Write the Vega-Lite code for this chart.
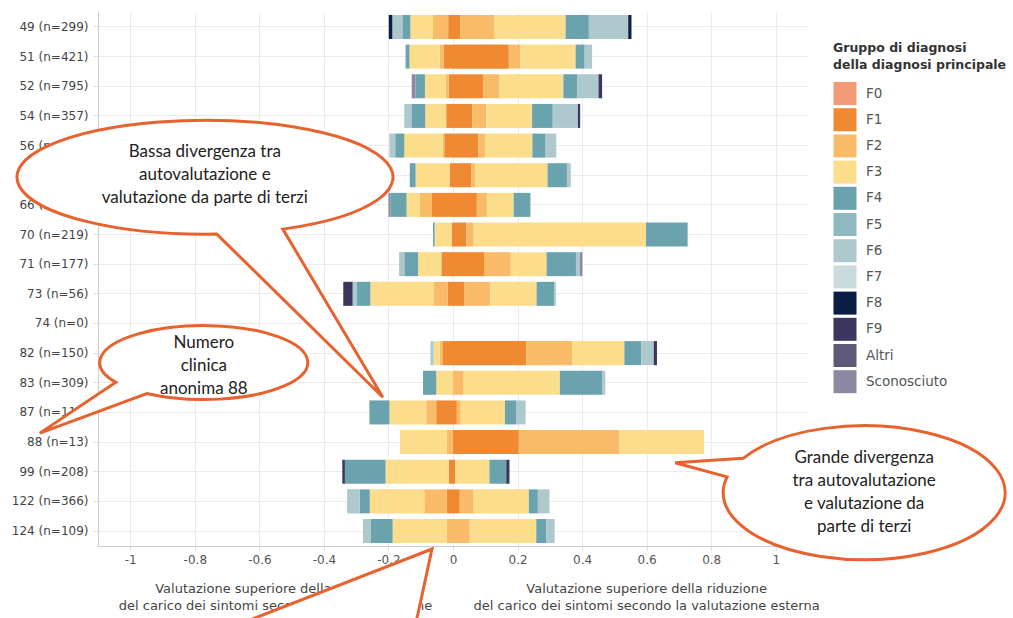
{
  "$schema": "https://vega.github.io/schema/vega-lite/v6.json",
  "width": 710,
  "height": 534,
  "autosize": {"type": "none"},
  "padding": {"left": 98, "top": 12, "right": 205, "bottom": 72},
  "background": "white",
  "config": {"view": {"stroke": null}, "font": "DejaVu Sans"},
  "datasets": {
    "bars": [
      {"c": "49 (n=299)", "g": "F1", "v": -0.015}, {"c": "49 (n=299)", "g": "F2", "v": -0.047}, {"c": "49 (n=299)", "g": "F3", "v": -0.070}, {"c": "49 (n=299)", "g": "F4", "v": -0.025}, {"c": "49 (n=299)", "g": "F6", "v": -0.031}, {"c": "49 (n=299)", "g": "F8", "v": -0.011},
      {"c": "49 (n=299)", "g": "F1", "v": 0.022}, {"c": "49 (n=299)", "g": "F2", "v": 0.105}, {"c": "49 (n=299)", "g": "F3", "v": 0.222}, {"c": "49 (n=299)", "g": "F4", "v": 0.072}, {"c": "49 (n=299)", "g": "F6", "v": 0.122}, {"c": "49 (n=299)", "g": "F8", "v": 0.010},
      {"c": "51 (n=421)", "g": "F1", "v": -0.029}, {"c": "51 (n=421)", "g": "F2", "v": -0.012}, {"c": "51 (n=421)", "g": "F3", "v": -0.094}, {"c": "51 (n=421)", "g": "F4", "v": -0.012},
      {"c": "51 (n=421)", "g": "F1", "v": 0.173}, {"c": "51 (n=421)", "g": "F2", "v": 0.036}, {"c": "51 (n=421)", "g": "F3", "v": 0.171}, {"c": "51 (n=421)", "g": "F4", "v": 0.028}, {"c": "51 (n=421)", "g": "F6", "v": 0.023},
      {"c": "52 (n=795)", "g": "F1", "v": -0.013}, {"c": "52 (n=795)", "g": "F2", "v": -0.009}, {"c": "52 (n=795)", "g": "F3", "v": -0.065}, {"c": "52 (n=795)", "g": "F4", "v": -0.029}, {"c": "52 (n=795)", "g": "Sconosciuto", "v": -0.012},
      {"c": "52 (n=795)", "g": "F1", "v": 0.093}, {"c": "52 (n=795)", "g": "F2", "v": 0.051}, {"c": "52 (n=795)", "g": "F3", "v": 0.198}, {"c": "52 (n=795)", "g": "F4", "v": 0.043}, {"c": "52 (n=795)", "g": "F6", "v": 0.066}, {"c": "52 (n=795)", "g": "F9", "v": 0.011},
      {"c": "54 (n=357)", "g": "F1", "v": -0.021}, {"c": "54 (n=357)", "g": "F3", "v": -0.065}, {"c": "54 (n=357)", "g": "F4", "v": -0.043}, {"c": "54 (n=357)", "g": "F6", "v": -0.022},
      {"c": "54 (n=357)", "g": "F1", "v": 0.060}, {"c": "54 (n=357)", "g": "F2", "v": 0.043}, {"c": "54 (n=357)", "g": "F3", "v": 0.142}, {"c": "54 (n=357)", "g": "F4", "v": 0.064}, {"c": "54 (n=357)", "g": "F6", "v": 0.078}, {"c": "54 (n=357)", "g": "F9", "v": 0.007},
      {"c": "56 (n=351)", "g": "F1", "v": -0.027}, {"c": "56 (n=351)", "g": "F2", "v": -0.004}, {"c": "56 (n=351)", "g": "F3", "v": -0.120}, {"c": "56 (n=351)", "g": "F4", "v": -0.028}, {"c": "56 (n=351)", "g": "F6", "v": -0.018},
      {"c": "56 (n=351)", "g": "F1", "v": 0.078}, {"c": "56 (n=351)", "g": "F2", "v": 0.021}, {"c": "56 (n=351)", "g": "F3", "v": 0.147}, {"c": "56 (n=351)", "g": "F4", "v": 0.041}, {"c": "56 (n=351)", "g": "F6", "v": 0.033},
      {"c": "58 (n=240)", "g": "F1", "v": -0.010}, {"c": "58 (n=240)", "g": "F3", "v": -0.106}, {"c": "58 (n=240)", "g": "F4", "v": -0.018},
      {"c": "58 (n=240)", "g": "F1", "v": 0.057}, {"c": "58 (n=240)", "g": "F2", "v": 0.012}, {"c": "58 (n=240)", "g": "F3", "v": 0.224}, {"c": "58 (n=240)", "g": "F4", "v": 0.060}, {"c": "58 (n=240)", "g": "F6", "v": 0.012},
      {"c": "66 (n=272)", "g": "F1", "v": -0.065}, {"c": "66 (n=272)", "g": "F2", "v": -0.039}, {"c": "66 (n=272)", "g": "F3", "v": -0.040}, {"c": "66 (n=272)", "g": "F4", "v": -0.050}, {"c": "66 (n=272)", "g": "Sconosciuto", "v": -0.006},
      {"c": "66 (n=272)", "g": "F1", "v": 0.074}, {"c": "66 (n=272)", "g": "F2", "v": 0.031}, {"c": "66 (n=272)", "g": "F3", "v": 0.083}, {"c": "66 (n=272)", "g": "F4", "v": 0.052},
      {"c": "70 (n=219)", "g": "F1", "v": -0.003}, {"c": "70 (n=219)", "g": "F3", "v": -0.054}, {"c": "70 (n=219)", "g": "F4", "v": -0.005},
      {"c": "70 (n=219)", "g": "F1", "v": 0.041}, {"c": "70 (n=219)", "g": "F2", "v": 0.023}, {"c": "70 (n=219)", "g": "F3", "v": 0.534}, {"c": "70 (n=219)", "g": "F4", "v": 0.129},
      {"c": "71 (n=177)", "g": "F1", "v": -0.036}, {"c": "71 (n=177)", "g": "F3", "v": -0.072}, {"c": "71 (n=177)", "g": "F4", "v": -0.043}, {"c": "71 (n=177)", "g": "F6", "v": -0.016},
      {"c": "71 (n=177)", "g": "F1", "v": 0.096}, {"c": "71 (n=177)", "g": "F2", "v": 0.083}, {"c": "71 (n=177)", "g": "F3", "v": 0.111}, {"c": "71 (n=177)", "g": "F4", "v": 0.091}, {"c": "71 (n=177)", "g": "F6", "v": 0.012}, {"c": "71 (n=177)", "g": "Sconosciuto", "v": 0.008},
      {"c": "73 (n=56)", "g": "F1", "v": -0.016}, {"c": "73 (n=56)", "g": "F2", "v": -0.043}, {"c": "73 (n=56)", "g": "F3", "v": -0.197}, {"c": "73 (n=56)", "g": "F4", "v": -0.043}, {"c": "73 (n=56)", "g": "F6", "v": -0.012}, {"c": "73 (n=56)", "g": "F9", "v": -0.029},
      {"c": "73 (n=56)", "g": "F1", "v": 0.034}, {"c": "73 (n=56)", "g": "F2", "v": 0.082}, {"c": "73 (n=56)", "g": "F3", "v": 0.143}, {"c": "73 (n=56)", "g": "F4", "v": 0.055}, {"c": "73 (n=56)", "g": "F6", "v": 0.005},
      {"c": "82 (n=150)", "g": "F1", "v": -0.031}, {"c": "82 (n=150)", "g": "F2", "v": -0.010}, {"c": "82 (n=150)", "g": "F3", "v": -0.019}, {"c": "82 (n=150)", "g": "F6", "v": -0.010},
      {"c": "82 (n=150)", "g": "F1", "v": 0.227}, {"c": "82 (n=150)", "g": "F2", "v": 0.143}, {"c": "82 (n=150)", "g": "F3", "v": 0.161}, {"c": "82 (n=150)", "g": "F4", "v": 0.052}, {"c": "82 (n=150)", "g": "F6", "v": 0.039}, {"c": "82 (n=150)", "g": "F9", "v": 0.010},
      {"c": "83 (n=309)", "g": "F3", "v": -0.052}, {"c": "83 (n=309)", "g": "F4", "v": -0.041},
      {"c": "83 (n=309)", "g": "F2", "v": 0.033}, {"c": "83 (n=309)", "g": "F3", "v": 0.298}, {"c": "83 (n=309)", "g": "F4", "v": 0.131}, {"c": "83 (n=309)", "g": "F6", "v": 0.010},
      {"c": "87 (n=112)", "g": "F1", "v": -0.052}, {"c": "87 (n=112)", "g": "F2", "v": -0.031}, {"c": "87 (n=112)", "g": "F3", "v": -0.114}, {"c": "87 (n=112)", "g": "F4", "v": -0.062},
      {"c": "87 (n=112)", "g": "F1", "v": 0.012}, {"c": "87 (n=112)", "g": "F2", "v": 0.012}, {"c": "87 (n=112)", "g": "F3", "v": 0.137}, {"c": "87 (n=112)", "g": "F4", "v": 0.036}, {"c": "87 (n=112)", "g": "F6", "v": 0.028},
      {"c": "88 (n=13)", "g": "F2", "v": -0.019}, {"c": "88 (n=13)", "g": "F3", "v": -0.145},
      {"c": "88 (n=13)", "g": "F1", "v": 0.204}, {"c": "88 (n=13)", "g": "F2", "v": 0.312}, {"c": "88 (n=13)", "g": "F3", "v": 0.262},
      {"c": "99 (n=208)", "g": "F1", "v": -0.013}, {"c": "99 (n=208)", "g": "F3", "v": -0.196}, {"c": "99 (n=208)", "g": "F4", "v": -0.126}, {"c": "99 (n=208)", "g": "F9", "v": -0.008},
      {"c": "99 (n=208)", "g": "F1", "v": 0.007}, {"c": "99 (n=208)", "g": "F3", "v": 0.106}, {"c": "99 (n=208)", "g": "F4", "v": 0.052}, {"c": "99 (n=208)", "g": "F9", "v": 0.010},
      {"c": "122 (n=366)", "g": "F1", "v": -0.019}, {"c": "122 (n=366)", "g": "F2", "v": -0.070}, {"c": "122 (n=366)", "g": "F3", "v": -0.169}, {"c": "122 (n=366)", "g": "F4", "v": -0.031}, {"c": "122 (n=366)", "g": "F6", "v": -0.039},
      {"c": "122 (n=366)", "g": "F1", "v": 0.021}, {"c": "122 (n=366)", "g": "F2", "v": 0.041}, {"c": "122 (n=366)", "g": "F3", "v": 0.173}, {"c": "122 (n=366)", "g": "F4", "v": 0.028}, {"c": "122 (n=366)", "g": "F6", "v": 0.036},
      {"c": "124 (n=109)", "g": "F2", "v": -0.019}, {"c": "124 (n=109)", "g": "F3", "v": -0.168}, {"c": "124 (n=109)", "g": "F4", "v": -0.067}, {"c": "124 (n=109)", "g": "F6", "v": -0.025},
      {"c": "124 (n=109)", "g": "F2", "v": 0.052}, {"c": "124 (n=109)", "g": "F3", "v": 0.206}, {"c": "124 (n=109)", "g": "F4", "v": 0.031}, {"c": "124 (n=109)", "g": "F6", "v": 0.026}
    ]
  },
  "layer": [
    {
      "data": {"name": "bars"},
      "mark": {"type": "bar", "strokeWidth": 0},
      "encoding": {
        "y": {
          "field": "c", "type": "nominal",
          "scale": {"domain": ["49 (n=299)","51 (n=421)","52 (n=795)","54 (n=357)","56 (n=351)","58 (n=240)","66 (n=272)","70 (n=219)","71 (n=177)","73 (n=56)","74 (n=0)","82 (n=150)","83 (n=309)","87 (n=112)","88 (n=13)","99 (n=208)","122 (n=366)","124 (n=109)"], "paddingInner": 0.19, "paddingOuter": 0.1},
          "axis": {"title": null, "grid": true, "gridColor": "#ebebeb", "bandPosition": 0.5, "domainColor": "#cccccc", "tickColor": "#dddddd", "tickSize": 5, "labelFontSize": 12, "labelColor": "#444444", "labelPadding": 5, "labelFont": "DejaVu Sans"}
        },
        "x": {
          "field": "v", "type": "quantitative", "stack": "zero",
          "scale": {"domain": [-1.1, 1.1], "nice": false, "zero": false},
          "axis": {"title": null, "values": [-1, -0.8, -0.6, -0.4, -0.2, 0, 0.2, 0.4, 0.6, 0.8, 1], "labelExpr": "'' + datum.value", "grid": true, "gridColor": "#ebebeb", "domainColor": "#cccccc", "tickColor": "#dddddd", "tickSize": 4, "labelFontSize": 12, "labelColor": "#555555", "labelPadding": 4, "labelFont": "DejaVu Sans"}
        },
        "color": {
          "field": "g", "type": "nominal",
          "scale": {"domain": ["F0","F1","F2","F3","F4","F5","F6","F7","F8","F9","Altri","Sconosciuto"], "range": ["#f29b76","#ef8a32","#f9bb68","#fbdd8b","#6aa3ad","#8fb9c0","#adc9ce","#c9dbdf","#0b1f45","#3c355e","#5f5879","#8f88a3"]},
          "legend": {"title": ["Gruppo di diagnosi", "della diagnosi principale"], "orient": "none", "legendX": 735, "legendY": 30, "titleFontSize": 12.5, "titleFontWeight": "bold", "titleColor": "#333333", "titleFont": "DejaVu Sans", "titlePadding": 10, "titleLineHeight": 17, "symbolType": "square", "symbolSize": 530, "symbolStrokeWidth": 0, "symbolOpacity": 1, "rowPadding": 2.2, "labelFontSize": 13.5, "labelColor": "#555555", "labelOffset": 9, "labelFont": "DejaVu Sans"}
        },
        "order": {"field": "g", "sort": "ascending"}
      }
    },
    {
      "mark": {"type": "rule", "color": "#dddddd", "strokeWidth": 1},
      "encoding": {"x": {"datum": 1.1, "type": "quantitative"}}
    },
    {
      "mark": {"type": "rule", "color": "#222222", "strokeWidth": 1.5},
      "encoding": {"x": {"datum": 0, "type": "quantitative"}}
    },
    {
      "data": {"values": [
        {"c": "124 (n=109)", "x": -0.55, "t": "Valutazione superiore della riduzione\ndel carico dei sintomi secondo l'autovalutazione"},
        {"c": "124 (n=109)", "x": 0.6, "t": "Valutazione superiore della riduzione\ndel carico dei sintomi secondo la valutazione esterna"}
      ]},
      "mark": {"type": "text", "lineBreak": "\n", "baseline": "top", "align": "center", "dy": 52, "fontSize": 13, "lineHeight": 16.5, "color": "#444444", "font": "DejaVu Sans"},
      "encoding": {
        "y": {"field": "c", "type": "nominal"},
        "x": {"field": "x", "type": "quantitative"},
        "text": {"field": "t"}
      }
    },
    {
      "data": {"values": [{"c": "124 (n=109)", "x": -0.065}]},
      "mark": {"type": "point", "shape": "M -236 110 L 0 18 L -20 110 Z", "size": 4, "filled": true, "fill": "white", "stroke": "#e8622f", "strokeWidth": 3, "opacity": 1},
      "encoding": {
        "y": {"field": "c", "type": "nominal"},
        "x": {"field": "x", "type": "quantitative"}
      }
    },
    {
      "data": {"values": [{"c": "58 (n=240)", "x": -0.769, "t": "Bassa divergenza tra\nautovalutazione e\nvalutazione da parte di terzi"}]},
      "layer": [
        {
          "mark": {"type": "point", "shape": "M 12 58.9 L 178 222 L 78 53.9 A 188 57 0 1 0 12 58.9 Z", "size": 4, "filled": true, "fill": "white", "stroke": "#e8622f", "strokeWidth": 3, "opacity": 1},
          "encoding": {"y": {"field": "c", "type": "nominal"}, "x": {"field": "x", "type": "quantitative"}}
        },
        {
          "mark": {"type": "text", "lineBreak": "\n", "baseline": "middle", "align": "center", "dy": -23, "fontSize": 17, "lineHeight": 23, "color": "#222222", "font": "Lato"},
          "encoding": {"y": {"field": "c", "type": "nominal"}, "x": {"field": "x", "type": "quantitative"}, "text": {"field": "t"}}
        }
      ]
    },
    {
      "data": {"values": [{"c": "82 (n=150)", "x": -0.772, "t": "Numero\nclinica\nanonima 88"}]},
      "layer": [
        {
          "mark": {"type": "point", "shape": "M -88 29.2 L -164 80 L -57 40.4 A 104 37 0 1 0 -88 29.2 Z", "size": 4, "filled": true, "fill": "white", "stroke": "#e8622f", "strokeWidth": 3, "opacity": 1},
          "encoding": {"y": {"field": "c", "type": "nominal"}, "x": {"field": "x", "type": "quantitative"}}
        },
        {
          "mark": {"type": "text", "lineBreak": "\n", "baseline": "middle", "align": "center", "dy": -10, "fontSize": 17, "lineHeight": 23, "color": "#222222", "font": "Lato"},
          "encoding": {"y": {"field": "c", "type": "nominal"}, "x": {"field": "x", "type": "quantitative"}, "text": {"field": "t"}}
        }
      ]
    },
    {
      "data": {"values": [{"c": "99 (n=208)", "x": 1.274, "t": "Grande divergenza\ntra autovalutazione\ne valutazione da\nparte di terzi"}]},
      "layer": [
        {
          "mark": {"type": "point", "shape": "M -121 -13.4 L -189 -9 L -137 5.2 A 141 67 0 1 0 -121 -13.4 Z", "size": 4, "filled": true, "fill": "white", "stroke": "#e8622f", "strokeWidth": 3, "opacity": 1},
          "encoding": {"y": {"field": "c", "type": "nominal"}, "x": {"field": "x", "type": "quantitative"}}
        },
        {
          "mark": {"type": "text", "lineBreak": "\n", "baseline": "middle", "align": "center", "dy": -13.5, "fontSize": 17, "lineHeight": 23, "color": "#222222", "font": "Lato"},
          "encoding": {"y": {"field": "c", "type": "nominal"}, "x": {"field": "x", "type": "quantitative"}, "text": {"field": "t"}}
        }
      ]
    }
  ]
}
